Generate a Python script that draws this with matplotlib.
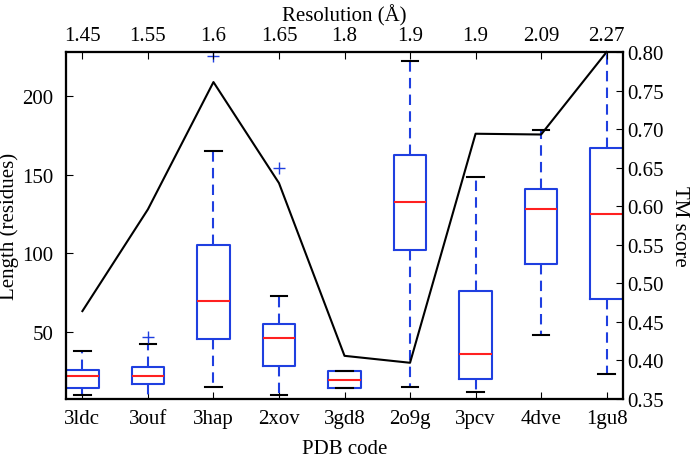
import matplotlib
matplotlib.use('Agg')
import matplotlib.pyplot as plt

# PDB entries and their resolution / TM score
pdb_codes = ['3ldc', '3ouf', '3hap', '2xov', '3gd8', '2o9g', '3pcv', '4dve', '1gu8']
resolution = ['1.45', '1.55', '1.6', '1.65', '1.8', '1.9', '1.9', '2.09', '2.27']
tm_score = [0.464, 0.596, 0.761, 0.630, 0.406, 0.397, 0.694, 0.693, 0.800]

# length distributions (residues)
q1 = [14.2, 16.9, 45.3, 28.6, 14.2, 102.3, 20.1, 93.4, 71.0]
med = [22.2, 22.2, 69.5, 46.4, 19.6, 132.6, 36.0, 128.2, 125.0]
q3 = [26.0, 27.5, 105.5, 55.0, 25.0, 162.7, 76.2, 140.9, 167.0]
whislo = [10.1, 5.0, 15.2, 10.1, 14.2, 15.2, 12.0, 48.1, 23.3]
whishi = [38.1, 42.3, 165.2, 73.0, 25.0, 222.4, 148.3, 178.4, 240.0]
fliers = [[], [47.0], [225.4], [154.0], [], [], [], [], []]

plt.rcParams['font.family'] = ['Liberation Serif', 'DejaVu Serif']
plt.rcParams['font.size'] = 15
plt.rcParams['xtick.direction'] = 'in'
plt.rcParams['ytick.direction'] = 'in'
plt.rcParams['axes.linewidth'] = 1.5

fig = plt.figure(figsize=(6.92, 4.60), dpi=100)
ax = fig.add_axes([0.0954, 0.1304, 0.8049, 0.7544])

stats = []
for i in range(len(pdb_codes)):
    stats.append({'q1': q1[i], 'med': med[i], 'q3': q3[i],
                  'whislo': whislo[i], 'whishi': whishi[i], 'fliers': fliers[i]})

positions = list(range(1, len(pdb_codes) + 1))
ax.bxp(stats, positions=positions, widths=0.5,
       boxprops=dict(color='#1f3fe0', linewidth=1.5),
       medianprops=dict(color='#ff2020', linewidth=1.5),
       whiskerprops=dict(color='#1f3fe0', linewidth=1.5, linestyle='--', dashes=(5, 3)),
       capprops=dict(color='black', linewidth=1.5),
       flierprops=dict(marker='+', markeredgecolor='#1f3fe0', markersize=8, linestyle='none'))

ax.set_xlim(0.75, 9.25)
ax.set_ylim(7.4, 228)
ax.set_xticks(positions)
ax.set_xticklabels(pdb_codes)
ax.set_yticks([50, 100, 150, 200])
ax.set_xlabel('PDB code', labelpad=8)
ax.set_ylabel('Length (residues)')
ax.yaxis.set_label_coords(-0.084, 0.5)
ax.tick_params(axis='x', pad=7, length=5)
ax.tick_params(axis='y', pad=9, length=5)

ax2 = ax.twinx()
ax2.plot(positions, tm_score, color='black', linewidth=1.5, clip_on=False)
ax2.set_ylim(0.35, 0.80)
ax2.set_yticks([0.35, 0.40, 0.45, 0.50, 0.55, 0.60, 0.65, 0.70, 0.75, 0.80])
ax2.set_yticklabels(['%.2f' % v for v in ax2.get_yticks()])
ax2.set_ylabel('TM score', rotation=270, labelpad=18)
ax2.tick_params(axis='y', pad=3, length=5)

ax3 = ax.twiny()
ax3.set_xlim(0.75, 9.25)
ax3.set_xticks(positions)
ax3.set_xticklabels(resolution)
ax3.set_xlabel('Resolution (Å)', labelpad=4)
ax3.tick_params(axis='x', pad=5, length=5)

fig.savefig('out.png', dpi=100)
